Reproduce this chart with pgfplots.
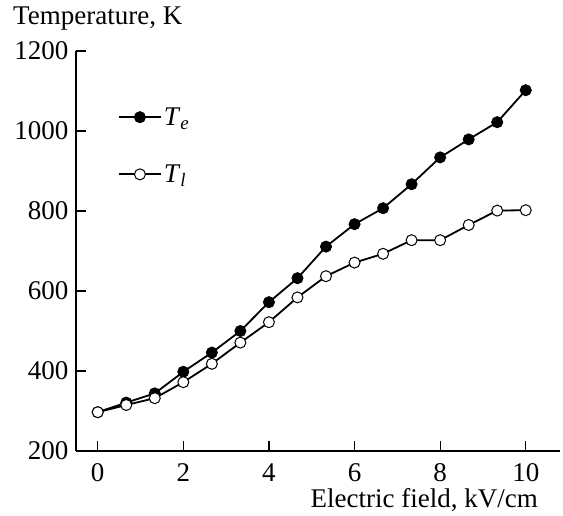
\documentclass[border=0pt]{standalone}
\usepackage{fontspec}
\setmainfont{Liberation Serif}
\usepackage{pgfplots}
\pgfplotsset{compat=1.18}
\begin{document}
\begin{tikzpicture}[font=\fontsize{27}{32}\selectfont]
\begin{axis}[
  at={(0pt,0pt)}, anchor=south west,
  scale only axis, width=484pt, height=400pt,
  xmin=-0.507, xmax=10.8, ymin=200, ymax=1200,
  axis lines*=left,
  axis line style={line width=1.2pt, black},
  tick style={line width=1.2pt, black},
  tick align=inside, major tick length=10pt,
  xtick={0,2,4,6,8,10}, ytick={200,400,600,800,1000,1200},
  /pgf/number format/assume math mode=true,
  /pgf/number format/1000 sep={},
  ticklabel style={font=\fontsize{27}{32}\selectfont},
  xticklabel style={yshift=-9pt},
  yticklabel style={xshift=-4pt},
  legend style={at={(axis cs:0.47,1064)}, anchor=north west, draw=none, fill=none,
    inner sep=0pt, row sep=34pt, font=\fontsize{27}{32}\selectfont,
    /tikz/every even column/.append style={column sep=10pt}},
  legend cell align=left,
  legend image code/.code={\draw[mark repeat=2,mark phase=2] plot coordinates {(0pt,0pt)(21pt,0pt)(42pt,0pt)};},
]
\addplot[black, line width=1.8pt, mark=*, mark size=5.5pt, mark options={solid, fill=black, line width=1pt}] coordinates {
(0,297) (0.667,321) (1.333,344) (2,398) (2.667,446) (3.333,500) (4,572) (4.667,632) (5.333,711) (6,767) (6.667,807) (7.333,867) (8,934) (8.667,979) (9.333,1022) (10,1102)
};
\addlegendentry{\textit{T}\textsubscript{\textit{e}}}
\addplot[black, line width=1.8pt, mark=*, mark size=5.5pt, mark options={solid, fill=white, line width=1pt}] coordinates {
(0,297) (0.667,315) (1.333,332) (2,372) (2.667,418) (3.333,471) (4,522) (4.667,584) (5.333,637) (6,671) (6.667,693) (7.333,727) (8,727) (8.667,765) (9.333,801) (10,802)
};
\addlegendentry{\textit{T}\textsubscript{\textit{l}}}
\end{axis}
\node[anchor=base west, inner sep=0pt] at (-63pt,426pt) {Temperature, K};
\node[anchor=base east, inner sep=0pt] at (462pt,-57pt) {Electric field, kV/cm};
\pgfresetboundingbox
\path[use as bounding box] (-76pt,-65pt) rectangle (487pt,451pt);
\end{tikzpicture}
\end{document}
